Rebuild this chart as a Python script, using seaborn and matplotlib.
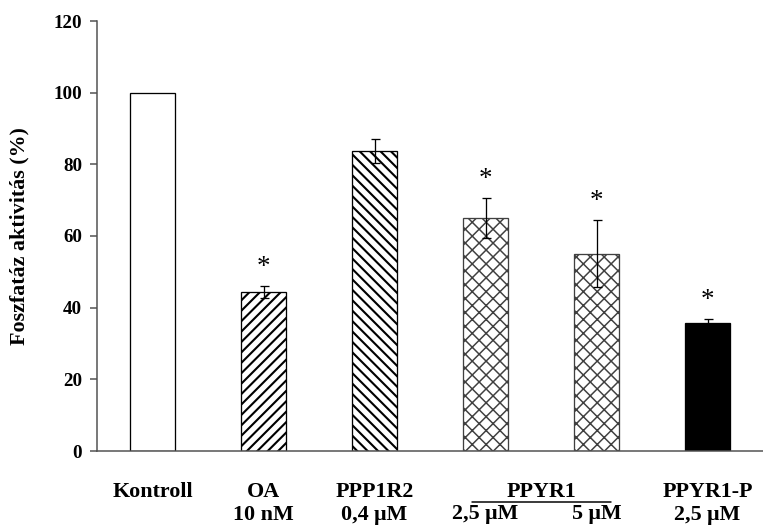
import matplotlib
matplotlib.use('Agg')
import matplotlib.pyplot as plt
import seaborn as sns
import numpy as np
import pandas as pd

# ---- data ----
categories = ["Kontroll", "OA", "PPP1R2", "PPYR1 2,5", "PPYR1 5", "PPYR1-P"]
values = [100.0, 44.3, 83.8, 65.0, 55.1, 35.8]
errors = [0.0, 1.7, 3.3, 5.6, 9.4, 1.1]
significant = [False, True, False, True, True, True]
tick_labels = ["Kontroll\n", "OA\n10 nM", "PPP1R2\n0,4 μM", "2,5 μM", "5 μM", "PPYR1-P\n2,5 μM"]
second_line_only = [False, False, False, True, True, False]
group_label = "PPYR1"
y_ticks = [0, 20, 40, 60, 80, 100, 120]
y_label = "Foszfatáz aktivitás (%)"

DPI = 125
def pt(px):
    return px * 72.0 / DPI

sns.set_theme(style="ticks")
plt.rcParams['font.family'] = ['Liberation Serif', 'DejaVu Serif']
plt.rcParams['hatch.linewidth'] = pt(2.1)
plt.rcParams['text.color'] = 'black'

fig = plt.figure(figsize=(763 / DPI, 527 / DPI), dpi=DPI)
ax = fig.add_axes([97 / 763, 1 - 451 / 527, 1 - 97 / 763, (451 - 21) / 527])

df = pd.DataFrame({"cat": categories, "val": values})
sns.barplot(data=df, x="cat", y="val", ax=ax, width=0.41, errorbar=None,
            color="white", edgecolor="black", linewidth=pt(1.3), saturation=1)

hatches = ["", "////", "\\\\\\\\", "xxx", "xxx", ""]
faces = ["white", "white", "white", "white", "white", "black"]
edges = ["black", "black", "black", "#404040", "#404040", "black"]
hatch_lw = [pt(2.1), pt(2.1), pt(2.1), pt(1.5), pt(1.5), pt(2.1)]
for p, h, fc, ec, hl in zip(ax.patches, hatches, faces, edges, hatch_lw):
    p.set_hatch(h)
    p.set_facecolor(fc)
    p.set_edgecolor(ec)
    if hasattr(p, "set_hatch_linewidth"):
        p.set_hatch_linewidth(hl)
    else:
        p._hatch_linewidth = hl

xs = np.arange(len(categories))
mask = np.array(errors) > 0
ax.errorbar(xs[mask], np.array(values)[mask], yerr=np.array(errors)[mask], fmt='none',
            ecolor='black', elinewidth=pt(1.3), capsize=pt(4.5), capthick=pt(1.3), zorder=5)

for i, sig in enumerate(significant):
    if sig:
        ax.annotate("*", xy=(i, values[i] + errors[i]), xytext=(0, pt(12)),
                    textcoords='offset points', ha='center', va='baseline',
                    fontsize=pt(27), color='black', zorder=6)

ax.set_xlim(-0.5, 5.5)
ax.set_ylim(0, 120)
ax.set_yticks(y_ticks)
ax.set_xticks(xs)
ax.set_xticklabels(tick_labels, fontweight='bold', linespacing=1.2)
ax.set_yticklabels([str(t) for t in y_ticks], fontweight='bold')
ax.set_xlabel("")
ax.set_ylabel(y_label, fontsize=pt(22), fontweight='bold', labelpad=pt(24), color='black')

sns.despine(ax=ax)
for s in ["left", "bottom"]:
    ax.spines[s].set_color('#505050')
    ax.spines[s].set_linewidth(pt(1.5))

ax.tick_params(axis='y', length=pt(7), width=pt(1.5), color='#505050', pad=pt(8),
               labelsize=pt(19), labelcolor='black')
ax.tick_params(axis='x', length=0, pad=pt(31), labelsize=pt(22), labelcolor='black')
for tick, only2 in zip(ax.xaxis.get_major_ticks(), second_line_only):
    if only2:
        tick.set_pad(pt(31 + 22))

ax.annotate(group_label, xy=(3.5, 0), xycoords=('data', 'axes fraction'),
            xytext=(0, -pt(31)), textcoords='offset points', ha='center', va='top',
            fontsize=pt(22), fontweight='bold', color='black', annotation_clip=False)
ax.plot([2.88, 4.13], [-51 / 430] * 2, transform=ax.get_xaxis_transform(),
        clip_on=False, color='black', lw=pt(1.5))

fig.savefig('out.png', dpi=DPI)
